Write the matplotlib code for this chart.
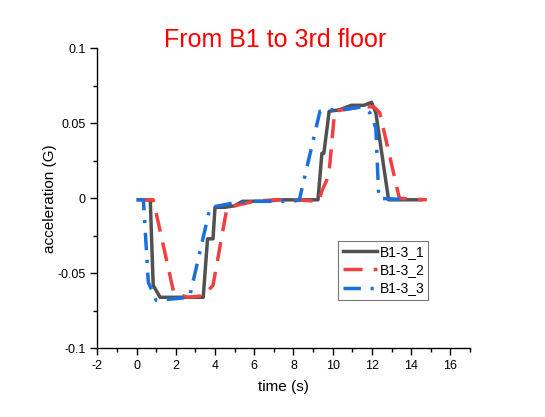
import matplotlib
matplotlib.use('Agg')
import matplotlib.pyplot as plt
from matplotlib.ticker import MultipleLocator

plt.rcParams['font.family'] = ['Liberation Sans', 'DejaVu Sans']

# data
t1 = [0.5, 0.7, 0.85, 1.2, 3.4, 3.62, 3.9, 4.0, 4.5, 5.0, 5.4, 6.6, 7.3, 8.3,
      9.25, 9.45, 9.55, 9.82, 10.35, 10.95, 11.6, 11.98, 12.2, 12.85, 14.5]
a1 = [-0.001, -0.001, -0.058, -0.066, -0.066, -0.027, -0.027, -0.006, -0.006,
      -0.005, -0.002, -0.002, -0.001, -0.001, -0.001, 0.030, 0.030, 0.058,
      0.059, 0.062, 0.062, 0.064, 0.057, -0.001, -0.001]

t2 = [0.0, 0.85, 1.9, 2.6, 3.4, 3.9, 4.6, 5.0, 6.0, 7.0, 8.0, 9.3, 9.45, 9.8,
      10.1, 10.5, 11.0, 11.5, 12.1, 12.4, 13.4, 14.8]
a2 = [-0.001, -0.001, -0.063, -0.066, -0.065, -0.058, -0.007, -0.005, -0.002,
      -0.001, -0.001, -0.002, 0.005, 0.015, 0.058, 0.059, 0.060, 0.061, 0.061,
      0.057, 0.0, -0.001]

t3 = [0.0, 0.35, 0.6, 1.0, 1.9, 2.7, 3.75, 4.2, 5.0, 6.0, 7.0, 8.0, 8.3, 9.35,
      9.9, 10.5, 11.0, 11.5, 11.9, 12.2, 12.35, 13.9]
a3 = [-0.001, -0.001, -0.056, -0.068, -0.067, -0.066, -0.006, -0.005, -0.003,
      -0.002, -0.002, -0.002, -0.001, 0.058, 0.059, 0.059, 0.060, 0.061, 0.057,
      0.047, 0.0, -0.001]

labels = ['B1-3_1', 'B1-3_2', 'B1-3_3']
xticks = [-2, 0, 2, 4, 6, 8, 10, 12, 14, 16]
yticks = [-0.1, -0.05, 0, 0.05, 0.1]
ytick_labels = ['-0.1', '-0.05', '0', '0.05', '0.1']

fig = plt.figure(figsize=(5.45, 4.17), dpi=100)
ax = fig.add_axes([97.3 / 545, 1 - 348.3 / 417, (470 - 97.3) / 545, 300 / 417])

ax.plot(t1, a1, color='#515151', lw=2.5, label=labels[0])
ax.plot(t2, a2, color='#F14040', lw=2.5, dashes=(5.5, 3.2), label=labels[1])
ax.plot(t3, a3, color='#1A6FDF', lw=2.5, dashes=(5, 2.8, 0.9, 2.8), label=labels[2])

ax.set_xlim(-2, 17)
ax.set_ylim(-0.1, 0.1)
ax.set_xticks(xticks)
ax.set_xticklabels([str(v) for v in xticks])
ax.set_yticks(yticks)
ax.set_yticklabels(ytick_labels)
ax.xaxis.set_minor_locator(MultipleLocator(1))
ax.yaxis.set_minor_locator(MultipleLocator(0.025))
ax.tick_params(which='major', direction='out', length=5, width=1, labelsize=9)
ax.tick_params(which='minor', direction='out', length=3, width=1)

for s in ['top', 'right']:
    ax.spines[s].set_visible(False)
for s in ['left', 'bottom']:
    ax.spines[s].set_linewidth(1)

ax.set_xlabel('time (s)', fontsize=11, labelpad=6)
ax.set_ylabel('acceleration (G)', fontsize=11, labelpad=0)

fig.text(275 / 545, 1 - 40 / 417, 'From B1 to 3rd floor', color='red',
         fontsize=18, ha='center', va='center')

leg = ax.legend(loc='upper left', bbox_to_anchor=(0.647, 0.358), fontsize=10,
                frameon=True, fancybox=False, edgecolor='#555555',
                handlelength=2.5, handletextpad=0.15, borderpad=0.3,
                labelspacing=0.3, borderaxespad=0)
leg.get_frame().set_linewidth(0.8)

fig.savefig('out.png', dpi=100)
